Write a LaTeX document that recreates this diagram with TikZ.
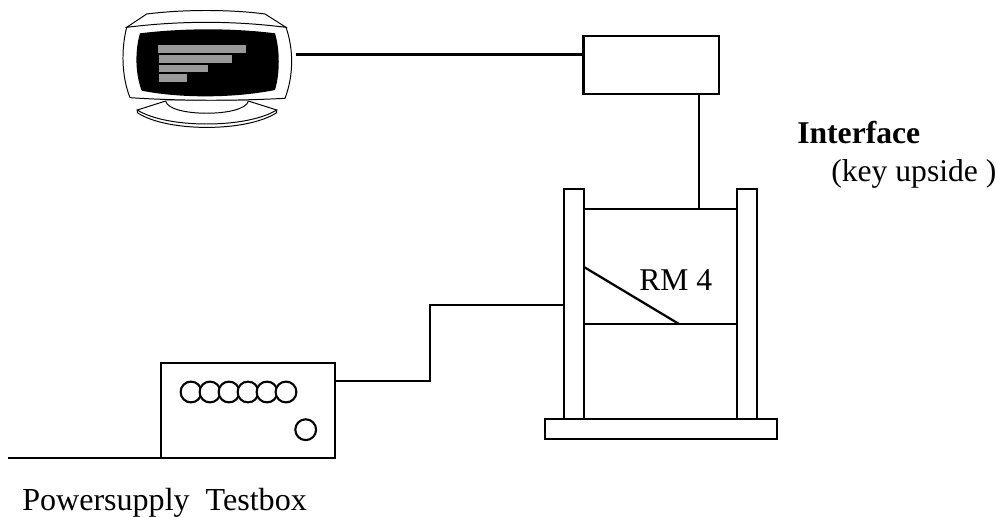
\documentclass[tikz,border=0pt]{standalone}
\usepackage{fontspec}
\setmainfont{Liberation Serif}
\usetikzlibrary{calc}
\tikzset{
  partbox/.style={
    draw, line width=1.6pt, fill=white, rectangle, inner sep=0pt, outer sep=0pt
  },
  wire/.style={line width=1.6pt},
  knob/.style={
    draw, line width=1.5pt, circle, fill=white, inner sep=0pt, outer sep=0pt,
    minimum size=0.52cm
  },
  thinline/.style={line width=0.7pt, fill=white},
  barfill/.style={fill=gray!80!white},
  caption/.style={
    font=\fontsize{22.5}{26}\selectfont, anchor=base west, inner sep=0pt
  },
}
\begin{document}
\begin{tikzpicture}[x=0.025cm, y=-0.025cm]
  \useasboundingbox (0, 0) rectangle (999, 517);

  % === Monitor ===
  \begin{scope}[shift={(100, 0)}, x=0.008333cm, y=-0.008333cm]
    \draw[thinline] (112, 338) .. controls (200, 397) and (440, 397) .. (530, 338) -- (530, 330) -- (112, 330) -- cycle;
    \draw[thinline] (197, 303) -- (112, 330) .. controls (200, 386) and (440, 386) .. (530, 330) -- (445, 303) -- cycle;
    \draw[thinline] (197, 303) .. controls (205, 352) and (435, 352) .. (445, 303);
    \draw[thinline] (80, 82) -- (140, 42) .. controls (250, 28) and (390, 28) .. (495, 42) -- (558, 82) -- cycle;
    \draw[thinline] (80, 82) .. controls (240, 62) and (400, 62) .. (558, 82)
      .. controls (582, 150) and (580, 230) .. (555, 295)
      .. controls (400, 303) and (240, 303) .. (90, 293)
      .. controls (65, 230) and (63, 150) .. (80, 82) -- cycle;
    \fill (120, 100) .. controls (250, 84) and (400, 84) .. (525, 100)
      .. controls (540, 150) and (540, 220) .. (525, 270)
      .. controls (400, 295) and (240, 295) .. (125, 272)
      .. controls (105, 220) and (105, 150) .. (120, 100) -- cycle;
    \fill[barfill] (174, 135) rectangle (438, 158);
    \fill[barfill] (177, 166) rectangle (396, 188);
    \fill[barfill] (177, 195) rectangle (324, 215);
    \fill[barfill] (177, 222) rectangle (261, 245);
  \end{scope}
  \coordinate (monitorport) at (296, 54.5);

  % === Interface ===
  \node[partbox, minimum width=3.38cm, minimum height=1.45cm] (iface) at (651, 64.7) {};
  \node[caption, font=\fontsize{22.5}{26}\selectfont\bfseries] (ifacelabel) at (797, 144) {Interface};
  \node[caption] (keylabel) at (831, 182) {(key upside )};

  % === RM 4 stand ===
  \node[partbox, minimum width=4.33cm, minimum height=2.875cm] (cage) at (660.5, 266.5) {};
  \draw[wire] (cage.west |- 0, 324) coordinate (shelfl) -- (cage.east |- 0, 324) coordinate (shelfr);
  \coordinate (slanttop) at (584, 267);
  \coordinate (slantend) at (679, 324);
  \draw[wire] (slanttop) -- (slantend);
  \node[partbox, minimum width=0.5cm, minimum height=5.75cm] (postl) at (574, 304) {};
  \node[partbox, minimum width=0.5cm, minimum height=5.75cm] (postr) at (747, 304) {};
  \node[partbox, minimum width=5.8cm, minimum height=0.5cm] (foot) at (661, 429) {};
  \node[caption] (rmlabel) at (639, 291) {RM 4};

  % === Testbox ===
  \node[partbox, minimum width=4.35cm, minimum height=2.375cm] (testbox) at (248, 410.5) {};
  \foreach \i [count=\n] in {191, 210, 229, 248, 267, 286} {
    \node[knob] (knob\n) at (\i, 392) {};
  }
  \node[knob] (knobsingle) at (305.7, 429.7) {};
  \node[caption, font=\fontsize{22.8}{26}\selectfont] (boxlabel) at (22, 510) {Powersupply\ \ Testbox};

  % === Wires ===
  \coordinate (mainsend) at (8, 458);
  \coordinate (ifacedrop) at (699, 209);
  \coordinate (wirebend) at (430, 381);
  \draw[wire] (monitorport) -- (monitorport -| iface.west);
  \draw[wire] (ifacedrop |- iface.south) -- (ifacedrop);
  \draw[wire] (mainsend) -- (mainsend -| testbox.west);
  \draw[wire] (wirebend -| testbox.east) -- (wirebend) -- (wirebend |- 0, 305) -- (postl.west |- 0, 305);

\end{tikzpicture}
\end{document}
